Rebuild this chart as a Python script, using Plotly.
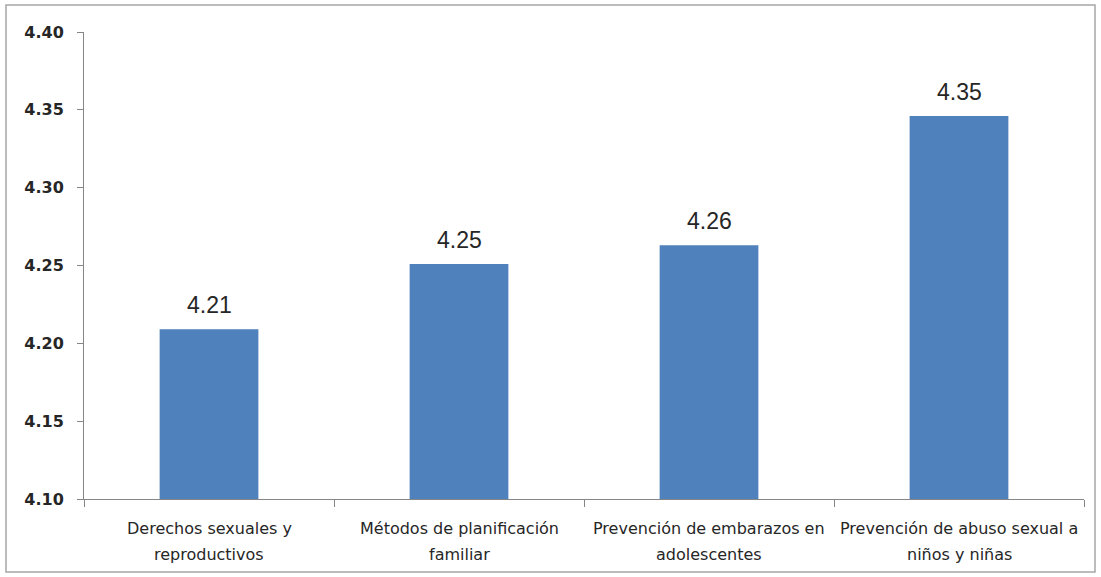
import plotly.graph_objects as go

categories = [
    "Derechos sexuales y reproductivos",
    "Métodos de planificación familiar",
    "Prevención de embarazos en adolescentes",
    "Prevención de abuso sexual a niños y niñas",
]
label_lines = [
    ["Derechos sexuales y", "reproductivos"],
    ["Métodos de planificación", "familiar"],
    ["Prevención de embarazos en", "adolescentes"],
    ["Prevención de abuso sexual a", "niños y niñas"],
]
values = [4.209, 4.251, 4.263, 4.346]
y_ticks = [4.10, 4.15, 4.20, 4.25, 4.30, 4.35, 4.40]
y_tick_labels = ["4.10", "4.15", "4.20", "4.25", "4.30", "4.35", "4.40"]

W, H = 1101, 577
L, R, T, B = 84, 17, 32, 78
pw, ph = W - L - R, H - T - B

def px_to_paper_x(px):
    return (px - L) / pw

def px_to_paper_y(py):
    return (H - B - py) / ph

fig = go.Figure()
fig.add_trace(go.Bar(
    x=categories, y=values, marker=dict(color="#4F81BD", line=dict(width=0)),
    width=0.395,
))

for c, v in zip(categories, values):
    fig.add_annotation(x=c, y=v, text=f"{v:.2f}", showarrow=False,
                       yanchor="bottom", yshift=9,
                       font=dict(family="Liberation Sans, Arial", size=23, color="#262626"))

line_centers_px = [528, 554]
for c, lines in zip(categories, label_lines):
    for line, cy in zip(lines, line_centers_px):
        fig.add_annotation(x=c, xref="x", y=px_to_paper_y(cy), yref="paper",
                           text=line, showarrow=False, yanchor="middle",
                           font=dict(family="DejaVu Sans", size=16, color="#262626"))

fig.add_shape(type="rect", xref="paper", yref="paper",
              x0=px_to_paper_x(6), x1=px_to_paper_x(1095),
              y0=px_to_paper_y(572), y1=px_to_paper_y(5),
              line=dict(color="#A6A6A6", width=1.5), fillcolor="rgba(0,0,0,0)", layer="below")

fig.update_layout(
    width=W, height=H,
    margin=dict(l=L, r=R, t=T, b=B),
    paper_bgcolor="white", plot_bgcolor="white",
    showlegend=False,
    xaxis=dict(
        showline=True, linecolor="#868686", linewidth=1,
        ticks="outside", tickson="boundaries", ticklen=7, tickcolor="#868686",
        showticklabels=False,
        showgrid=False, zeroline=False,
    ),
    yaxis=dict(
        range=[4.10, 4.40], tickvals=y_ticks, ticktext=y_tick_labels,
        showline=True, linecolor="#868686", linewidth=1,
        ticks="outside", ticklen=6, tickcolor="#868686",
        tickfont=dict(family="DejaVu Sans", size=16, color="#262626", weight="bold"),
        showgrid=False, zeroline=False, ticklabelstandoff=10,
    ),
)

fig.write_html("out.html", config={"displayModeBar": False},
               post_script="document.body.style.margin='0';document.body.style.overflow='hidden';")
